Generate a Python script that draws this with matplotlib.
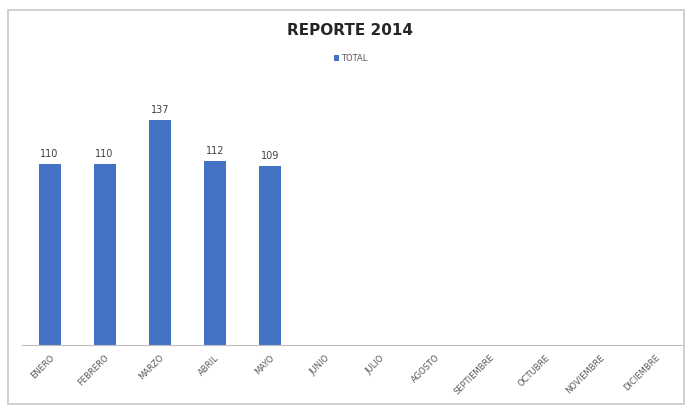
import matplotlib.pyplot as plt
import numpy as np
from matplotlib.patches import Rectangle

meses = ["ENERO", "FEBRERO", "MARZO", "ABRIL", "MAYO", "JUNIO", "JULIO",
         "AGOSTO", "SEPTIEMBRE", "OCTUBRE", "NOVIEMBRE", "DICIEMBRE"]
total = [110, 110, 137, 112, 109, np.nan, np.nan, np.nan, np.nan, np.nan, np.nan, np.nan]

fig = plt.figure(figsize=(6.86, 4.08), dpi=100)
# marco del grafico
fig.patches.append(Rectangle((8 / 686, 4 / 408), 676 / 686, 394 / 408, transform=fig.transFigure,
                             fill=False, edgecolor='#c8c8c8', lw=1.2))
ax = fig.add_axes([22 / 686, 63 / 408, 661 / 686, 263 / 408])

x = np.arange(len(meses))
bars = ax.bar(x, total, width=0.4, color='#4472C4', label='TOTAL')
for xi, v in zip(x, total):
    if not np.isnan(v):
        ax.text(xi, v + 3, f"{int(v)}", ha='center', va='bottom', fontsize=7, color='#404040')

ax.set_xlim(-0.5, 11.5)
ax.set_ylim(0, 160)
ax.set_yticks([])
ax.set_xticks(x)
ax.set_xticklabels(meses, rotation=45, ha='right', rotation_mode='anchor', fontsize=6, color='#595959')
ax.tick_params(axis='x', length=0, pad=6)
for s in ['top', 'right', 'left']:
    ax.spines[s].set_visible(False)
ax.spines['bottom'].set_color('#bfbfbf')

fig.text(0.51, 0.925, "REPORTE 2014", ha='center', va='center', fontsize=11, fontweight='bold', color='#262626')
ax.legend(loc='center', bbox_to_anchor=(0.497, 1.09), frameon=False, fontsize=6,
          handlelength=0.6, handleheight=0.6, handletextpad=0.3, labelcolor='#595959')

plt.savefig("out.png")
